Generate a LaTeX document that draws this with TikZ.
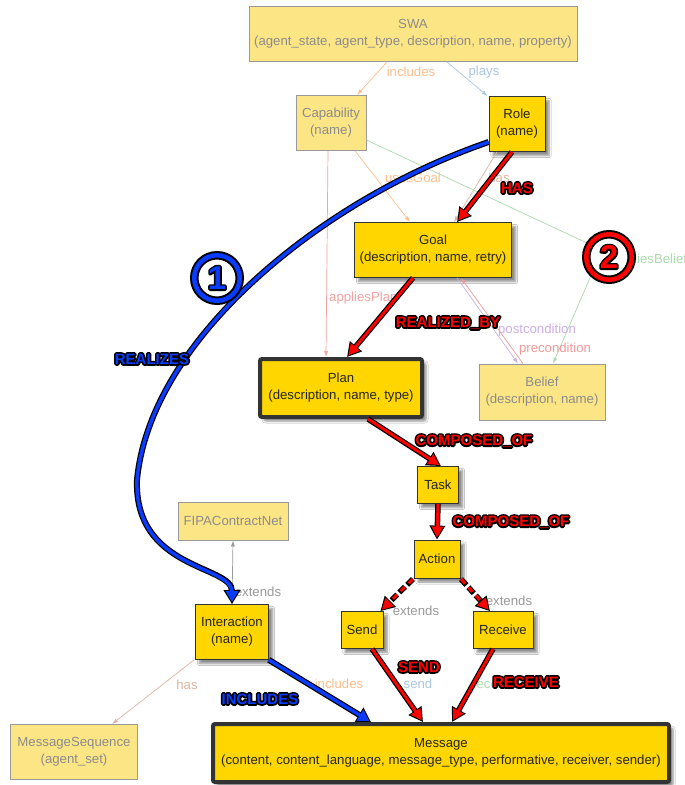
\documentclass[tikz,border=0pt]{standalone}
\usepackage{fontspec}
\setmainfont{Liberation Sans}
\usetikzlibrary{arrows.meta,shadows.blur}
\definecolor{paleyel}{HTML}{FCE584}
\definecolor{goldyel}{HTML}{FFD600}
\definecolor{inclC}{HTML}{FFBE8C}
\definecolor{playC}{HTML}{A9C6E4}
\definecolor{beliefC}{HTML}{ACDBAC}
\definecolor{planC}{HTML}{F2A3A3}
\definecolor{postC}{HTML}{CDB0E6}
\definecolor{preC}{HTML}{F29A9A}
\definecolor{hasC}{HTML}{DDB5A2}
\definecolor{extC}{HTML}{9A9A9A}
\definecolor{boldblue}{HTML}{0A3CFF}
\newcommand\outlined[2]{\rlap{\special{pdf:literal 2 Tr 3.4 w 1 j}\textcolor{black}{#2}\special{pdf:literal 0 Tr}}\textcolor{#1}{#2}}
\newcommand\redtag[1]{\outlined{red}{#1}}
\newcommand\bluetag[1]{\outlined{boldblue}{#1}}
\tikzset{
  pale/.style={draw=black!40, fill=paleyel, text=black!45, align=center, inner sep=0pt,
    line width=0.8pt, font=\fontsize{13.2}{17}\selectfont},
  box/.style={draw=black!80, fill=goldyel, text=black!85, align=center, inner sep=0pt,
    line width=0.8pt, font=\fontsize{13.2}{17}\selectfont,
    blur shadow={shadow xshift=4pt, shadow yshift=-4pt, shadow opacity=45, shadow blur steps=6}},
  fat/.style={box, line width=4pt, rounded corners=2pt},
  thin/.style={line width=0.7pt, -{Latex[length=6pt,width=4pt]}},
  tag/.style={inner sep=0pt, font=\fontsize{13.2}{15}\selectfont},
  bigtag/.style={inner sep=0pt, font=\fontsize{15}{15}\selectfont\bfseries},
  redarr/.style={draw=red, line width=3pt, shorten >=2pt, -{Triangle[length=11pt,width=11pt]},
    preaction={draw=black, line width=5.5pt, shorten >=0pt, -{Triangle[length=14pt,width=15pt]}}},
  reddash/.style={draw=red, line width=3pt, shorten >=2pt, dash pattern=on 6pt off 5pt, dash phase=-1pt,
    -{Triangle[length=11pt,width=11pt]},
    preaction={draw=black, line width=5.5pt, shorten >=0pt, dash pattern=on 8pt off 3pt,
      -{Triangle[length=14pt,width=15pt]}}},
  bluearr/.style={draw=boldblue, line width=3.5pt, shorten >=2pt, -{Triangle[length=11pt,width=12pt]},
    preaction={draw=black, line width=6pt, shorten >=0pt, -{Triangle[length=14pt,width=16pt]}}},
  ring/.style={circle, minimum size=45.5pt, inner sep=0pt, draw=#1, line width=4.5pt,
    preaction={fill=white, draw=black, line width=8.5pt},
    font=\fontsize{33}{33}\selectfont\bfseries}
}

\begin{document}
\begin{tikzpicture}[x=1pt,y=-1pt]
  \clip (0,0) rectangle (685,785);
  \fill[white] (0,0) rectangle (685,785);

  \node[pale, minimum width=328pt, minimum height=55pt] (swa) at (413,34)
    {SWA\\(agent\_state, agent\_type, description, name, property)};
  \node[pale, minimum width=70pt, minimum height=55pt] (cap) at (331,123) {Capability\\(name)};
  \node[box, minimum width=56pt, minimum height=55pt] (role) at (517,124) {Role\\(name)};
  \node[box, minimum width=157pt, minimum height=55pt] (goal) at (433,250) {Goal\\(description, name, retry)};
  \node[fat, minimum width=162pt, minimum height=58pt] (plan) at (341,388) {Plan\\(description, name, type)};
  \node[pale, minimum width=126pt, minimum height=56pt] (belief) at (542,392) {Belief\\(description, name)};
  \node[box, minimum width=41pt, minimum height=37pt] (task) at (438,485) {Task};
  \node[box, minimum width=46pt, minimum height=38pt] (action) at (437,559) {Action};
  \node[box, minimum width=42pt, minimum height=37pt] (send) at (362,630) {Send};
  \node[box, minimum width=60pt, minimum height=37pt] (receive) at (503,630) {Receive};
  \node[pale, minimum width=110pt, minimum height=38pt] (fipa) at (233,521) {FIPAContractNet};
  \node[box, minimum width=73pt, minimum height=55pt] (inter) at (232,632) {Interaction\\(name)};
  \node[pale, minimum width=127pt, minimum height=55pt] (mseq) at (74,752) {MessageSequence\\(agent\_set)};
  \node[fat, minimum width=456pt, minimum height=58pt] (msg) at (441,753)
    {Message\\(content, content\_language, message\_type, performative, receiver, sender)};

  \coordinate (bendB) at (602,250);
  \coordinate (swing) at (137,480);

  \draw[thin, inclC] ([xshift=-26pt]swa.south) -- ([xshift=26pt]cap.north);
  \draw[thin, playC] ([xshift=34pt]swa.south) -- ([xshift=-1pt]role.north west);
  \draw[thin, inclC] ([xshift=24pt]cap.south) -- ([xshift=-23pt]goal.north);
  \draw[thin, beliefC] ([yshift=-17pt]cap.east) -- (bendB) -- ([xshift=11pt]belief.north);
  \draw[thin, planC] ([xshift=-3pt]cap.south) -- ([xshift=-15pt]plan.north);
  \draw[thin, hasC] ([xshift=-20pt]role.south) -- ([xshift=21pt]goal.north);
  \draw[thin, postC] ([xshift=24pt]goal.south) -- ([xshift=-24pt]belief.north);
  \draw[thin, preC] ([xshift=-19pt]belief.north) -- ([xshift=28pt]goal.south);
  \draw[thin, extC] (inter.north) -- (fipa.south);
  \draw[thin, hasC] ([xshift=-38pt]inter.south) -- ([xshift=38pt]mseq.north);

  \node[tag, text=inclC] (lincl) at (411,72) {includes};
  \node[tag, text=playC] (lplays) at (484,72) {plays};
  \node[tag, text=inclC] (luses) at (413,178) {usesGoal};
  \node[tag, text=hasC] (lhas) at (499,178) {has};
  \node[tag, text=planC, anchor=west] (lplan) at (329,298) {appliesPlan};
  \node[tag, text=beliefC, anchor=west] (lbel) at (612,260) {appliesBelief};
  \node[tag, text=postC] (lpost) at (537,330) {postcondition};
  \node[tag, text=preC] (lpre) at (555,349) {precondition};
  \node[tag, text=extC] (lext) at (258,592) {extends};
  \node[tag, text=hasC] (lhas2) at (187,685) {has};
  \node[tag, text=inclC] (lincl2) at (339,684) {includes};
  \node[tag, text=playC] (lsend) at (418,684) {send};
  \node[tag, text=beliefC, anchor=west] (lrecv) at (472,684) {receive};
  \node[tag, text=extC] (lext2) at (416,611) {extends};
  \node[tag, text=extC] (lext3) at (509,601) {extends};

  \draw[redarr] ([xshift=-5pt]role.south) -- ([xshift=24pt]goal.north);
  \draw[redarr] ([xshift=-20pt]goal.south) -- ([xshift=6pt]plan.north);
  \draw[redarr] ([xshift=27pt]plan.south) -- ([xshift=3pt]task.north);
  \draw[redarr] (task.south) -- (action.north);
  \draw[reddash] (action.south west) -- ([xshift=-3pt]send.north east);
  \draw[reddash] (action.south east) -- ([xshift=-13pt]receive.north);
  \draw[redarr] ([xshift=10pt]send.south) -- ([xshift=-18pt]msg.north);
  \draw[redarr] ([xshift=-10pt]receive.south) -- ([xshift=11pt]msg.north);
  \draw[bluearr] (inter.south east) -- ([xshift=-70pt]msg.north);
  \draw[bluearr] ([yshift=-18pt]role.west) .. controls (320,200) and (150,340) .. (swing)
    .. controls (134,570) and (232,565) .. (inter.north);

  \node[bigtag] (thas) at (517,188) {\redtag{HAS}};
  \node[bigtag] (treal) at (448,323) {\redtag{REALIZED\_BY}};
  \node[bigtag] (tcomp) at (474,441) {\redtag{COMPOSED\_OF}};
  \node[bigtag] (tcomp2) at (511,522) {\redtag{COMPOSED\_OF}};
  \node[bigtag] (tsend) at (419,667) {\redtag{SEND}};
  \node[bigtag] (trecv) at (526,682) {\redtag{RECEIVE}};
  \node[bigtag] (trealizes) at (152,359) {\bluetag{REALIZES}};
  \node[bigtag] (tincl) at (260,699) {\bluetag{INCLUDES}};

  \node[ring=boldblue] (one) at (217,278) {\bluetag{1}};
  \node[ring=red] (two) at (609,257) {\redtag{2}};
\end{tikzpicture}
\end{document}
